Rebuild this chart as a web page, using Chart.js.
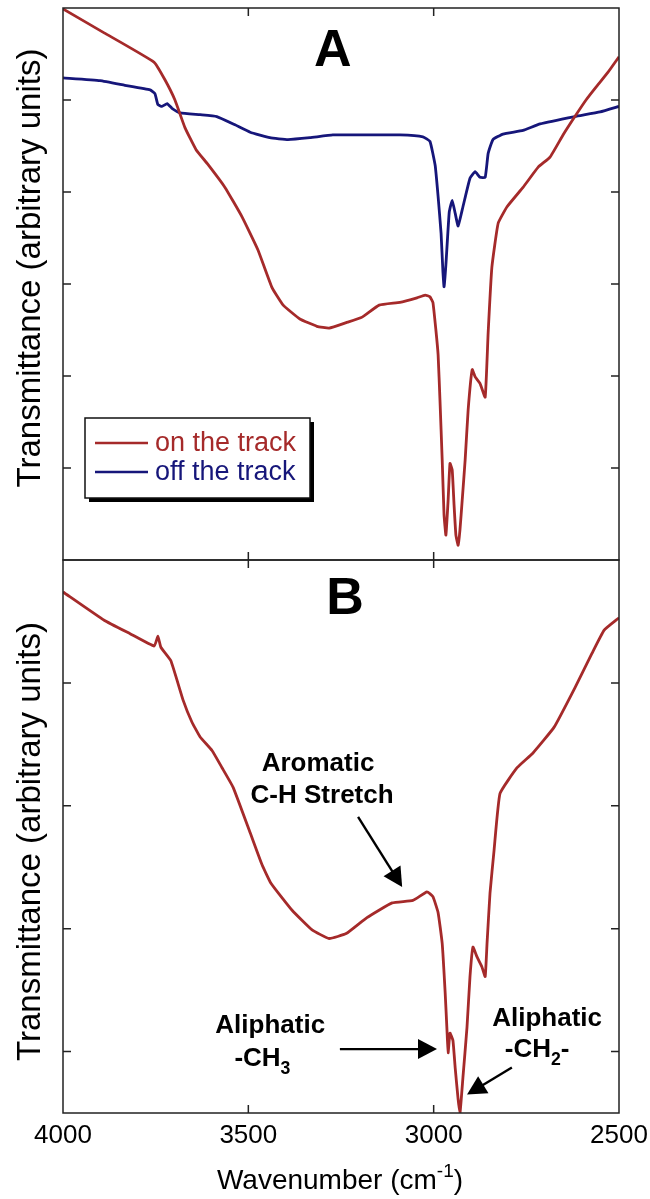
<!DOCTYPE html>
<html>
<head>
<meta charset="utf-8">
<script src="https://cdn.jsdelivr.net/npm/chart.js@4.4.1/dist/chart.umd.min.js"></script>
<style>
  html,body{margin:0;padding:0;background:#fff;}
  #wrap{position:relative;width:650px;height:1199px;}
  #wrap canvas{position:absolute;left:0;top:0;}
</style>
</head>
<body>
<div id="wrap">
  <canvas id="chartA" width="650" height="1199"></canvas>
  <canvas id="chartB" width="650" height="1199"></canvas>
</div>
<script>
// Panel A, "on the track" (wavenumber cm-1 / transmittance, arbitrary units)
const wnOnA = [4000,3889,3754,3725,3698,3671,3641,3609,3563,3517,3474,3436,3406,3361,3315,3282,3236,3193,3147,3091,3045,3023,3010,3002,2994,2988,2983,2977,2972,2967,2961,2956,2950,2945,2940,2934,2929,2923,2915,2907,2896,2888,2875,2861,2853,2843,2826,2802,2759,2718,2686,2651,2619,2589,2562,2530,2500];
const onTrackA = [59.9,57.3,54.1,52.2,50.0,47.0,44.6,43.0,40.5,37.3,33.7,29.6,27.7,26.2,25.4,25.2,25.8,26.4,27.7,28.0,28.5,28.8,28.6,28.0,25.0,22.3,17.4,10.9,4.9,2.7,6.5,10.5,9.8,6.0,2.7,1.6,3.3,6.5,10.9,16.3,20.7,19.9,19.2,17.7,24.7,31.8,36.6,38.4,40.5,42.7,43.8,46.2,48.2,50.0,51.4,53.0,54.7];

// Panel A, "off the track"
const wnOffA = [4000,3900,3833,3765,3752,3744,3733,3719,3706,3684,3630,3585,3536,3495,3442,3393,3334,3272,3172,3091,3029,3010,2996,2988,2980,2975,2972,2967,2958,2950,2942,2934,2921,2902,2888,2875,2861,2853,2840,2813,2759,2713,2619,2551,2500];
const offTrackA = [52.4,52.1,51.6,51.1,50.7,49.5,49.3,49.6,49.1,48.6,48.4,48.2,47.3,46.5,45.9,45.7,45.9,46.2,46.2,46.2,46.0,45.5,42.9,39.5,35.5,31.3,29.7,32.1,37.8,39.1,37.7,36.3,38.4,41.5,42.2,41.6,41.6,44.2,45.7,46.3,46.7,47.4,48.2,48.7,49.3];

// Panel B, "on the track"
const wnB = [4000,3889,3819,3754,3744,3736,3709,3676,3652,3630,3598,3571,3541,3495,3463,3439,3382,3328,3282,3236,3180,3112,3056,3018,3002,2988,2977,2969,2964,2961,2956,2948,2942,2934,2929,2921,2910,2902,2894,2883,2870,2861,2856,2848,2837,2821,2775,2732,2675,2619,2573,2540,2500];
const onTrackB = [47.4,45.1,44.0,43.0,43.8,42.9,41.8,38.6,36.8,35.6,34.5,33.1,31.5,27.8,25.2,23.7,21.5,19.9,19.2,19.6,20.9,22.1,22.3,23.0,22.6,21.3,18.8,14.8,11.7,9.9,11.5,10.9,8.7,6.1,5.0,7.9,12.0,16.1,18.5,17.7,16.9,16.1,18.8,22.9,26.4,31.0,33.1,34.3,36.4,39.6,42.4,44.3,45.3];

const xTickLabels = [4000,3500,3000,2500];
const xInnerTicks = [3500,3000];
const yTicksA = [10,20,30,40,50];
const yTicksB = [10,20,30,40];

const RED = '#a52a2a', BLUE = '#16167a', FONT = '"Liberation Sans", Arial, sans-serif';
const pts = (xs, ys) => xs.map((x,i)=>({x, y:ys[i]}));
const line = (label, xs, ys, color) => ({label, data:pts(xs,ys), borderColor:color, backgroundColor:color, borderWidth:2.8, pointRadius:0, tension:0.12, fill:false});

const drawArrow = (ctx, x1, y1, x2, y2) => {
  const a = Math.atan2(y2-y1, x2-x1), L = 19, W = 10;
  ctx.beginPath(); ctx.moveTo(x1,y1); ctx.lineTo(x2 - Math.cos(a)*L*0.8, y2 - Math.sin(a)*L*0.8); ctx.lineWidth = 2.4; ctx.stroke();
  ctx.beginPath();
  ctx.moveTo(x2,y2);
  ctx.lineTo(x2 - Math.cos(a)*L - Math.sin(a)*W, y2 - Math.sin(a)*L + Math.cos(a)*W);
  ctx.lineTo(x2 - Math.cos(a)*L + Math.sin(a)*W, y2 - Math.sin(a)*L - Math.cos(a)*W);
  ctx.closePath(); ctx.fill();
}

// text with sub/superscript pieces: parts = [[text, 'n'|'sub'|'sup'], ...]
const drawRich = (ctx, parts, cx, baseY, size, bold) => {
  const f = s => `${bold?'bold ':''}${s}px ${FONT}`;
  let w = 0;
  parts.forEach(([t,k]) => { ctx.font = f(k==='n'?size:size*0.68); w += ctx.measureText(t).width; });
  let x = cx - w/2;
  ctx.textAlign = 'left'; ctx.textBaseline = 'alphabetic';
  parts.forEach(([t,k]) => {
    const s = k==='n'?size:size*0.68;
    ctx.font = f(s);
    const dy = k==='sub' ? size*0.3 : k==='sup' ? -size*0.42 : 0;
    ctx.fillText(t, x, baseY+dy);
    x += ctx.measureText(t).width;
  });
}

// frame, inward ticks, y title, panel letter
const framePlugin = {
  id: 'frame',
  afterDraw(chart, args, o){
    const {ctx, chartArea:a, scales:{x,y}} = chart;
    ctx.save();
    ctx.strokeStyle = '#222'; ctx.lineWidth = 1.5;
    ctx.strokeRect(a.left, a.top, a.right-a.left, a.bottom-a.top);
    ctx.beginPath();
    xInnerTicks.forEach(v=>{ const p = x.getPixelForValue(v); ctx.moveTo(p,a.top); ctx.lineTo(p,a.top+8); ctx.moveTo(p,a.bottom); ctx.lineTo(p,a.bottom-8); });
    o.yTicks.forEach(v=>{ const p = y.getPixelForValue(v); ctx.moveTo(a.left,p); ctx.lineTo(a.left+8,p); ctx.moveTo(a.right,p); ctx.lineTo(a.right-8,p); });
    ctx.stroke();

    ctx.fillStyle = '#000';
    ctx.save();
    ctx.translate(31, (a.top+a.bottom)/2 + o.titleShift);
    ctx.rotate(-Math.PI/2);
    ctx.font = `33px ${FONT}`; ctx.textAlign = 'center'; ctx.textBaseline = 'middle';
    ctx.fillText('Transmittance (arbitrary units)', 0, 0);
    ctx.restore();

    ctx.font = `bold 52px ${FONT}`; ctx.textAlign = 'center'; ctx.textBaseline = 'middle';
    ctx.fillText(o.letter, x.getPixelForValue(o.letterAt[0]), y.getPixelForValue(o.letterAt[1]));
    ctx.restore();
  }
}

const legendPlugin = {
  id: 'boxLegend',
  afterDraw(chart){
    const {ctx, chartArea:a} = chart;
    const L = a.left+22, T = a.top+410, W = 225, H = 80;
    ctx.save();
    ctx.fillStyle = '#000'; ctx.fillRect(L+4, T+4, W, H);
    ctx.fillStyle = '#fff'; ctx.fillRect(L, T, W, H);
    ctx.strokeStyle = '#111'; ctx.lineWidth = 1.5; ctx.strokeRect(L, T, W, H);
    chart.data.datasets.forEach((d,i)=>{
      const yy = T + 25 + i*29;
      ctx.strokeStyle = d.borderColor; ctx.lineWidth = 2.5;
      ctx.beginPath(); ctx.moveTo(L+10, yy); ctx.lineTo(L+63, yy); ctx.stroke();
      ctx.fillStyle = d.borderColor; ctx.font = `27px ${FONT}`; ctx.textAlign = 'left'; ctx.textBaseline = 'middle';
      ctx.fillText(d.label, L+70, yy+1);
    });
    ctx.restore();
  }
}

// annotations for panel B (data coordinates)
const notesPlugin = {
  id: 'notes',
  afterDraw(chart){
    const {ctx, scales:{x,y}} = chart;
    const X = v => x.getPixelForValue(v), Y = v => y.getPixelForValue(v);
    ctx.save();
    ctx.fillStyle = '#000'; ctx.strokeStyle = '#000';
    ctx.font = `bold 26px ${FONT}`; ctx.textAlign = 'center'; ctx.textBaseline = 'middle';
    ctx.fillText('Aromatic', X(3312), Y(33.4));
    ctx.fillText('C-H Stretch', X(3301), Y(30.8));
    drawArrow(ctx, X(3204), Y(29.1), X(3085), Y(23.4));

    ctx.fillText('Aliphatic', X(3441), Y(12.1));
    drawRich(ctx, [['-CH','n'],['3','sub']], X(3462), Y(9.55)+9, 26, true);
    drawArrow(ctx, X(3253), Y(10.2), X(2991), Y(10.2));

    ctx.font = `bold 26px ${FONT}`; ctx.textAlign = 'center'; ctx.textBaseline = 'middle';
    ctx.fillText('Aliphatic', X(2694), Y(12.7));
    drawRich(ctx, [['-CH','n'],['2','sub'],['-','n']], X(2721), Y(10.3)+9, 26, true);
    drawArrow(ctx, X(2789), Y(8.7), X(2910), Y(6.5));

    // x axis title with superscript
    drawRich(ctx, [['Wavenumber (cm','n'],['-1','sup'],[')','n']], 340, 1189, 28, false);
    ctx.restore();
  }
}

const yAxis = (min, max) => ({
  type:'linear', min, max,
  ticks:{display:false}, grid:{display:false, drawTicks:false}, border:{display:false},
  afterFit: s => { s.width = 63; }
});

new Chart(document.getElementById('chartA'), {
  type:'line',
  data:{ datasets:[ line('on the track', wnOnA, onTrackA, RED), line('off the track', wnOffA, offTrackA, BLUE) ] },
  options:{
    responsive:false, animation:false, devicePixelRatio:1,
    layout:{ padding:{ top:8, right:31, bottom:639, left:0 } },
    scales:{
      x:{ type:'linear', min:2500, max:4000, reverse:true, display:false },
      y: yAxis(0, 60)
    },
    plugins:{ legend:{display:false}, tooltip:{enabled:false},
      frame:{ yTicks:yTicksA, titleShift:-16, letter:'A', letterAt:[3272, 55.3] } }
  },
  plugins:[framePlugin, legendPlugin]
});

new Chart(document.getElementById('chartB'), {
  type:'line',
  data:{ datasets:[ line('on the track', wnB, onTrackB, RED) ] },
  options:{
    responsive:false, animation:false, devicePixelRatio:1,
    layout:{ padding:{ top:560, right:31, bottom:0, left:0 } },
    scales:{
      x:{ type:'linear', min:2500, max:4000, reverse:true,
        afterBuildTicks: s => { s.ticks = xTickLabels.map(v=>({value:v})); },
        ticks:{ color:'#000', font:{family:FONT, size:26}, padding:7, maxRotation:0, autoSkip:false, callback: v => String(v) },
        grid:{display:false, drawTicks:false}, border:{display:false},
        afterFit: s => { s.height = 86; s.paddingLeft = 0; s.paddingRight = 0; } },
      y: yAxis(5, 50)
    },
    plugins:{ legend:{display:false}, tooltip:{enabled:false},
      frame:{ yTicks:yTicksB, titleShift:5, letter:'B', letterAt:[3239, 46.8] } }
  },
  plugins:[framePlugin, notesPlugin]
});
</script>
</body>
</html>
